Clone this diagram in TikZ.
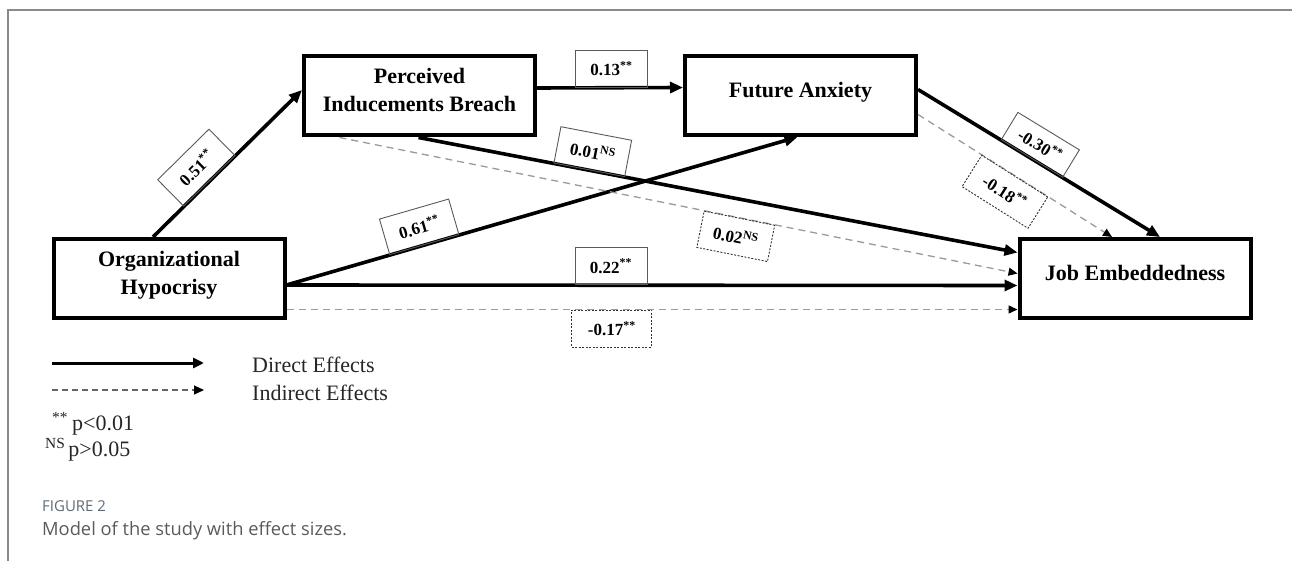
\documentclass[tikz,border=0pt]{standalone}
\usepackage{fontspec}
\setmainfont{Liberation Serif}
\newfontfamily\capfont{Open Sans}
\usepackage{xcolor}
\usepackage{tikz}
\usetikzlibrary{arrows.meta,calc}

\definecolor{framegray}{HTML}{8A8A8A}
\definecolor{dashgray}{HTML}{9A9A9A}
\definecolor{capblue}{HTML}{5E6A75}
\definecolor{capgray}{HTML}{5A5A5A}

\tikzset{
  var/.style={draw, line width=4pt, minimum width=231pt, minimum height=79pt,
    inner sep=0pt, text depth=12pt, align=center, font=\fontsize{22}{28}\selectfont\bfseries},
  direct/.style={line width=3.6pt, -{Triangle[length=13pt,width=11pt]}},
  indirect/.style={draw=dashgray, line width=1.3pt, dash pattern=on 7pt off 5pt,
    -{Triangle[length=9pt,width=8pt,color=black]}},
  coef/.style={draw=black!65, line width=0.9pt, minimum width=72pt, minimum height=37pt,
    inner sep=1pt, font=\fontsize{17}{17}\selectfont\bfseries},
  coefdash/.style={coef, draw=black!80, dash pattern=on 2pt off 1.5pt},
  legend/.style={inner sep=0pt, font=\fontsize{22}{22}\selectfont, text=black!85}
}

\begin{document}
\begin{tikzpicture}[x=1pt, y=-1pt]
\useasboundingbox (0,0) rectangle (1292,561);

\draw[framegray, line width=1.5pt] (1292,10) -- (8,10) -- (8,561);

% variables
\node[var] (oh)  at (169,278.5) {Organizational\\Hypocrisy};
\node[var] (pib) at (419.5,96)  {Perceived\\Inducements Breach};
\node[var] (fa)  at (800.5,95.5) {Future Anxiety};
\node[var] (je)  at (1135,278.5) {Job Embeddedness};

% direct effects
\draw[direct] ([xshift=-16pt]oh.north) -- ([yshift=6pt]pib.west)
  node[coef, sloped, above, pos=0.38] (c51) {0.51\textsuperscript{**}};
\draw[direct] ([yshift=8pt]pib.east) -- ([yshift=8pt]fa.west)
  node[coef, above, pos=0.51] (c13) {0.13\textsuperscript{**}};
\draw[direct] ([yshift=-6.5pt]oh.east) -- ([xshift=-3pt]fa.south)
  node[coef, sloped, above, pos=0.27] (c61) {0.61\textsuperscript{**}};
\draw[direct] ([xshift=-1pt]pib.south) -- ([yshift=26pt]je.west)
  node[coef, sloped, above, pos=0.285] (c01) {0.01\textsuperscript{NS}};
\draw[direct] ([yshift=-6.5pt]oh.east) -- ([yshift=-7pt]je.west)
  node[coef, above, pos=0.444] (c22) {0.22\textsuperscript{**}};
\draw[direct] ([yshift=6pt]fa.east) -- ([xshift=25pt]je.north)
  node[coef, sloped, above, pos=0.47, minimum height=32pt] (c30) {-0.30\textsuperscript{**}};

% indirect effects
\draw[indirect] ([xshift=-80pt]pib.south) -- ([yshift=5pt]je.west)
  node[coefdash, sloped, below, pos=0.59] (c02) {0.02\textsuperscript{NS}};
\draw[indirect] ([yshift=-31pt]oh.east) -- ([yshift=-31pt]je.west)
  node[coefdash, below, pos=0.445, minimum width=80pt] (c17) {-0.17\textsuperscript{**}};
\draw[indirect] ([yshift=-19pt]fa.east) -- ([xshift=-23pt]je.north)
  node[coefdash, sloped, below, pos=0.5, minimum width=78pt] (c18) {-0.18\textsuperscript{**}};

% legend
\coordinate (ls1) at (52,363);
\coordinate (ls2) at (204,363);
\coordinate (li1) at (52,390);
\coordinate (li2) at (204,390);
\draw[line width=3pt, -{Triangle[length=11pt,width=10pt]}] (ls1) -- (ls2);
\draw[draw=black!60, line width=1.1pt, dash pattern=on 6pt off 4pt,
  -{Triangle[length=10pt,width=9pt,color=black]}] (li1) -- (li2);
\node[legend, anchor=west] (ldir) at (252,365) {Direct Effects};
\node[legend, anchor=west] (lind) at (252,393) {Indirect Effects};
\node[legend, anchor=west] (lp01) at (52,424) {\textsuperscript{**}\hspace{4pt}p<0.01};
\node[legend, anchor=west] (lp05) at (45,450) {\textsuperscript{NS}\hspace{3pt}p>0.05};

% caption
\node[anchor=west, inner sep=0pt, text=capblue, font=\capfont\fontsize{15}{15}\selectfont]
  (fig) at (42,506) {FIGURE 2};
\node[anchor=west, inner sep=0pt, text=capgray, font=\capfont\fontsize{18.3}{18.3}\selectfont]
  (cap) at (42,531) {Model of the study with effect sizes.};
\end{tikzpicture}
\end{document}
